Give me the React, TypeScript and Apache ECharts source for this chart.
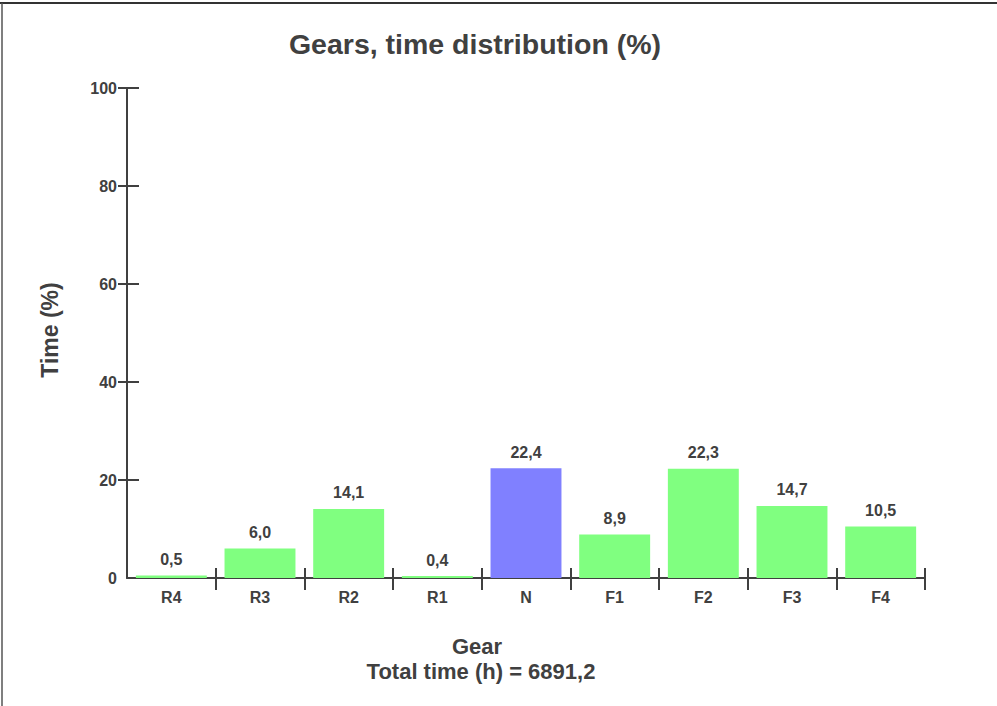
import React, { useEffect, useRef } from "react";
import * as echarts from "echarts";

const categories = ["R4", "R3", "R2", "R1", "N", "F1", "F2", "F3", "F4"];
const values = [0.5, 6.0, 14.1, 0.4, 22.4, 8.9, 22.3, 14.7, 10.5];
const neutralGear = "N";
const yTicks = [20, 40, 60, 80, 100];
const titleText = "Gears, time distribution (%)";
const yName = "Time (%)";
const xName = "Gear";
const totalText = "Total time (h) = 6891,2";

const FONT = "'Liberation Sans', Arial, Helvetica, sans-serif";
const TXT = "#404040";
const GREEN = "#80ff80";
const BLUE = "#8080ff";

export default function App() {
  const ref = useRef<HTMLDivElement>(null);
  useEffect(() => {
    if (!ref.current) return;
    const chart = echarts.init(ref.current, undefined, { renderer: "svg" });
    const fmt = (v: number) => v.toFixed(1).replace(".", ",");
    chart.setOption({
      animation: false,
      backgroundColor: "#ffffff",
      textStyle: { fontFamily: FONT },
      grid: { left: 127, right: 72, top: 88, bottom: 128, containLabel: false },
      xAxis: [
        {
          type: "category",
          data: categories,
          position: "bottom",
          axisLine: { show: true, lineStyle: { color: TXT, width: 2 } },
          axisTick: {
            show: true,
            inside: false,
            length: 12,
            interval: (i: number) => i !== 0,
            lineStyle: { color: TXT, width: 2 },
          },
          axisLabel: { color: TXT, fontWeight: "bold", fontSize: 16, margin: 11, fontFamily: FONT },
          splitLine: { show: false },
        },
        {
          type: "category",
          data: categories,
          position: "bottom",
          axisLine: { show: false },
          axisTick: {
            show: true,
            inside: true,
            length: 10,
            interval: (i: number) => i !== 0,
            lineStyle: { color: TXT, width: 2 },
          },
          axisLabel: { show: false },
          splitLine: { show: false },
        },
      ],
      yAxis: [
        {
          type: "value",
          min: 0,
          max: 100,
          interval: 20,
          position: "left",
          axisLine: { show: true, lineStyle: { color: TXT, width: 2 } },
          axisTick: {
            show: true,
            inside: false,
            length: 9,
            customValues: yTicks,
            lineStyle: { color: TXT, width: 2 },
          },
          axisLabel: { color: TXT, fontWeight: "bold", fontSize: 16, margin: 10, fontFamily: FONT },
          splitLine: { show: false },
        },
        {
          type: "value",
          min: 0,
          max: 100,
          interval: 20,
          position: "left",
          axisLine: { show: false },
          axisTick: {
            show: true,
            inside: true,
            length: 12,
            customValues: yTicks,
            lineStyle: { color: TXT, width: 2 },
          },
          axisLabel: { show: false },
          splitLine: { show: false },
        },
      ],
      series: [
        {
          type: "bar",
          xAxisIndex: 0,
          yAxisIndex: 0,
          barWidth: "80%",
          data: values.map((v, i) => ({
            value: v,
            itemStyle: { color: categories[i] === neutralGear ? BLUE : GREEN },
          })),
          label: {
            show: true,
            position: "top",
            distance: 8,
            color: TXT,
            fontWeight: "bold",
            fontSize: 16,
            fontFamily: FONT,
            formatter: (p: any) => fmt(p.value),
          },
        },
      ],
      graphic: [
        { type: "line", shape: { x1: 0, y1: 3, x2: 997, y2: 3 }, style: { stroke: "#333", lineWidth: 2 } },
        { type: "line", shape: { x1: 2, y1: 3, x2: 2, y2: 706 }, style: { stroke: "#555", lineWidth: 1.5 } },
        {
          type: "text",
          x: 475,
          y: 44,
          style: { text: titleText, fill: TXT, font: `bold 28.5px ${FONT}`, textAlign: "center", textVerticalAlign: "middle" },
        },
        {
          type: "text",
          x: 50,
          y: 330,
          rotation: Math.PI / 2,
          style: { text: yName, fill: TXT, font: `bold 23px ${FONT}`, textAlign: "center", textVerticalAlign: "middle" },
        },
        {
          type: "text",
          x: 477,
          y: 646,
          style: { text: xName, fill: TXT, font: `bold 22px ${FONT}`, textAlign: "center", textVerticalAlign: "middle" },
        },
        {
          type: "text",
          x: 481,
          y: 671,
          style: { text: totalText, fill: TXT, font: `bold 22px ${FONT}`, textAlign: "center", textVerticalAlign: "middle" },
        },
      ],
    });
    return () => chart.dispose();
  }, []);
  return <div ref={ref} style={{ position: "fixed", left: 0, top: 0, width: 997, height: 706 }} />;
}
